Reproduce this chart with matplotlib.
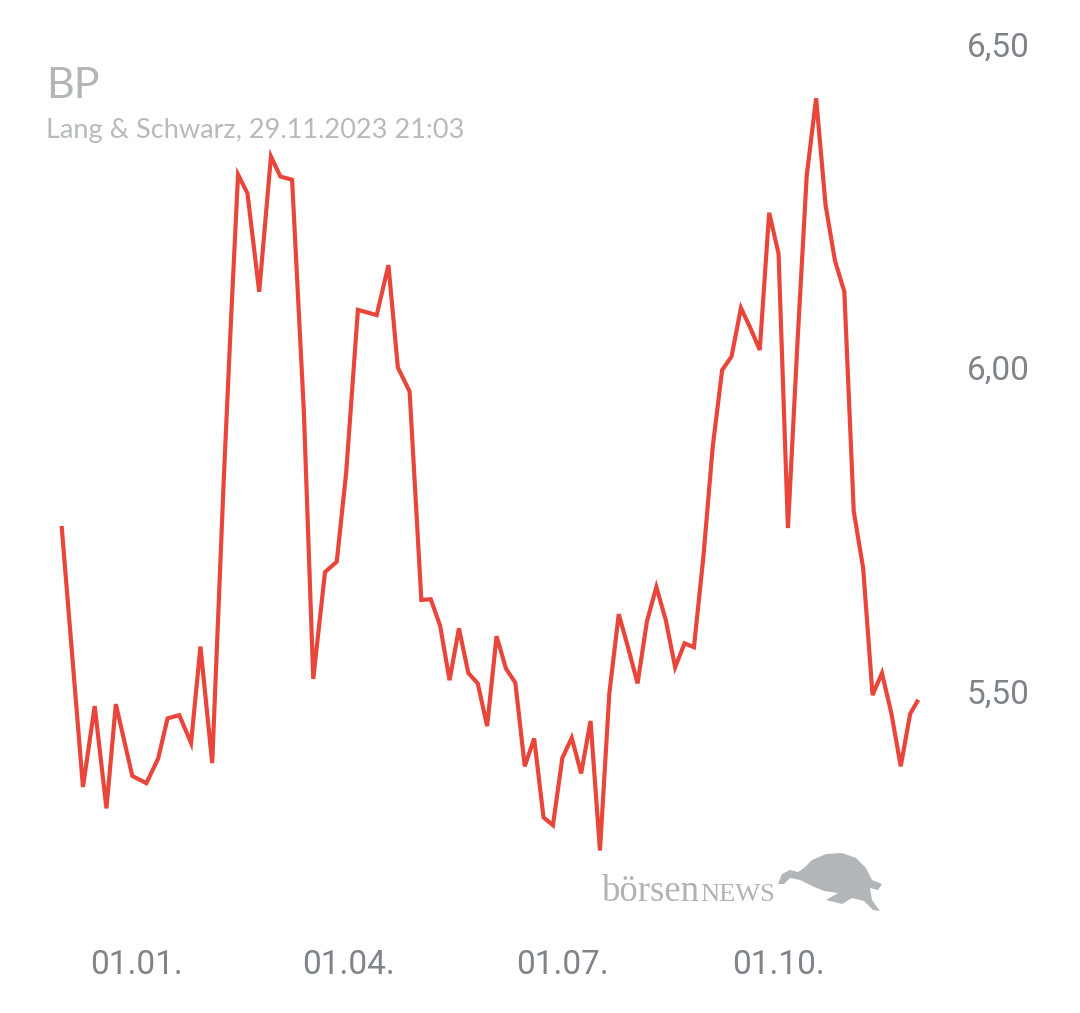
import matplotlib
matplotlib.use("Agg")
import matplotlib.pyplot as plt
import matplotlib.dates as mdates
from matplotlib.patches import Polygon
import numpy as np
import datetime as dt

# ---- data ----
dates = [
    "2022-11-30", "2022-12-09", "2022-12-14", "2022-12-19", "2022-12-23", "2022-12-30",
    "2023-01-05", "2023-01-10", "2023-01-14", "2023-01-19", "2023-01-24", "2023-01-28",
    "2023-02-02", "2023-02-07", "2023-02-10", "2023-02-13", "2023-02-17", "2023-02-22",
    "2023-02-27", "2023-03-03", "2023-03-08", "2023-03-13", "2023-03-17", "2023-03-22",
    "2023-03-27", "2023-03-31", "2023-04-05", "2023-04-09", "2023-04-13", "2023-04-18",
    "2023-04-22", "2023-04-27", "2023-05-02", "2023-05-06", "2023-05-10", "2023-05-14",
    "2023-05-18", "2023-05-22", "2023-05-26", "2023-05-30", "2023-06-03", "2023-06-07",
    "2023-06-11", "2023-06-15", "2023-06-19", "2023-06-23", "2023-06-27", "2023-07-01",
    "2023-07-05", "2023-07-09", "2023-07-13", "2023-07-17", "2023-07-21", "2023-07-25",
    "2023-07-29", "2023-08-02", "2023-08-06", "2023-08-10", "2023-08-14", "2023-08-18",
    "2023-08-22", "2023-08-26", "2023-08-30", "2023-09-03", "2023-09-07", "2023-09-11",
    "2023-09-15", "2023-09-19", "2023-09-23", "2023-09-27", "2023-10-01", "2023-10-05",
    "2023-10-09", "2023-10-13", "2023-10-17", "2023-10-21", "2023-10-25", "2023-10-29",
    "2023-11-02", "2023-11-06", "2023-11-10", "2023-11-14", "2023-11-18", "2023-11-22",
    "2023-11-26", "2023-11-29",
]
prices = [
    5.752, 5.352, 5.477, 5.319, 5.480, 5.369,
    5.358, 5.396, 5.458, 5.463, 5.420, 5.569,
    5.389, 5.834, 6.073, 6.298, 6.269, 6.117,
    6.326, 6.295, 6.290, 5.932, 5.519, 5.684,
    5.700, 5.837, 6.089, 6.085, 6.081, 6.158,
    6.000, 5.963, 5.641, 5.642, 5.601, 5.517,
    5.597, 5.528, 5.512, 5.446, 5.585, 5.535,
    5.513, 5.384, 5.427, 5.305, 5.293, 5.397,
    5.428, 5.373, 5.454, 5.254, 5.497, 5.619,
    5.567, 5.512, 5.608, 5.661, 5.610, 5.537,
    5.574, 5.568, 5.707, 5.878, 5.996, 6.017,
    6.092, 6.061, 6.027, 6.239, 6.176, 5.752,
    6.035, 6.297, 6.416, 6.251, 6.165, 6.117,
    5.778, 5.690, 5.494, 5.528, 5.466, 5.384,
    5.465, 5.484,
]
y_ticks = [5.50, 6.00, 6.50]
y_tick_labels = ["5,50", "6,00", "6,50"]
x_ticks = ["2023-01-01", "2023-04-01", "2023-07-01", "2023-10-01"]
x_tick_labels = ["01.01.", "01.04.", "01.07.", "01.10."]
title = "BP"
subtitle = "Lang & Schwarz, 29.11.2023 21:03"
brand_a, brand_b = "börsen", "NEWS"

# ---- figure ----
W, H = 1080, 1013
fig = plt.figure(figsize=(W / 100, H / 100), dpi=100)
fig.patch.set_facecolor("white")

ax_l, ax_r, ax_t, ax_b = 40, 940, 20, 920
ax = fig.add_axes([ax_l / W, (H - ax_b) / H, (ax_r - ax_l) / W, (ax_b - ax_t) / H])

x = mdates.date2num([dt.datetime.strptime(d, "%Y-%m-%d") for d in dates])
ax.plot(x, prices, color="#e8463a", lw=3.0, solid_joinstyle="miter", zorder=3)

jan1 = mdates.date2num(dt.datetime(2023, 1, 1))
px_per_day = 2.35
ax.set_xlim(jan1 + (ax_l - 137) / px_per_day, jan1 + (ax_r - 137) / px_per_day)
px_per_unit = 647.4
ax.set_ylim(6.0 - (ax_b - 367.5) / px_per_unit, 6.0 - (ax_t - 367.5) / px_per_unit)

for s in ax.spines.values():
    s.set_visible(False)
ax.set_facecolor("none")

ax.yaxis.tick_right()
ax.set_yticks(y_ticks)
ax.set_yticklabels(y_tick_labels)
ax.set_xticks(mdates.date2num([dt.datetime.strptime(d, "%Y-%m-%d") for d in x_ticks]))
ax.set_xticklabels(x_tick_labels)
ax.tick_params(axis="y", length=0, pad=19, labelsize=24, labelcolor="#7f848a")
ax.tick_params(axis="x", length=0, pad=21, labelsize=24, labelcolor="#7f848a")
for lab in ax.get_xticklabels() + ax.get_yticklabels():
    lab.set_fontfamily("Roboto")

# title and subtitle
fig.text(46 / W, 1 - 86 / H, title, fontsize=31, color="#b3b6b9",
         family="Lato", va="center", ha="left")
fig.text(46 / W, 1 - 130 / H, subtitle, fontsize=19.5, color="#b7babd",
         family="Lato", va="center", ha="left")

# watermark
t1 = fig.text(602 / W, 1 - 901 / H, brand_a, fontsize=26.5, color="#b0b3b6",
              family="Liberation Serif", va="baseline", ha="left")
fig.canvas.draw()
bb = t1.get_window_extent(renderer=fig.canvas.get_renderer())
fig.text(bb.x1 / W, 1 - 901 / H, brand_b, fontsize=19, color="#b0b3b6",
         family="Liberation Serif", va="baseline", ha="left")
bull = np.array([
    [778, 884], [782, 874], [790, 870], [798, 872], [804, 868], [812, 860],
    [826, 854], [842, 853], [856, 858], [866, 868], [872, 880], [882, 884],
    [878, 890], [870, 888], [872, 900], [880, 911], [873, 910], [864, 901],
    [852, 898], [842, 904], [826, 900], [838, 893], [824, 891], [812, 886],
    [800, 880], [790, 878], [784, 884],
])
fig.patches.append(Polygon(np.column_stack([bull[:, 0] / W, 1 - bull[:, 1] / H]),
                           closed=True, transform=fig.transFigure,
                           facecolor="#b3b6b9", edgecolor="none", zorder=1))

fig.savefig("out.png", dpi=100, facecolor="white")
